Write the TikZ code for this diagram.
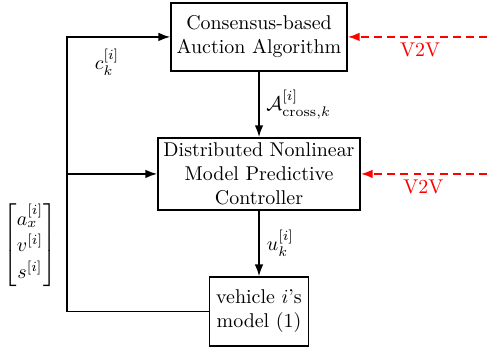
\RequirePackage{fix-cm}
\documentclass[tikz,border=0pt]{standalone}
\usepackage{amsmath, amssymb}
\usetikzlibrary{arrows.meta, positioning}

\begin{document}
\begin{tikzpicture}[node distance=2cm, font=\fontsize{10.6pt}{12.8pt}\selectfont,
    block/.style={draw, thick, align=center, inner sep=2pt},
    sig/.style={-{Latex[length=2.2mm, width=1.6mm]}, thick},
    vtov/.style={-{Latex[length=2.2mm, width=1.6mm]}, thick, red, dash pattern=on 4pt off 3pt}]
    \useasboundingbox (0,0) rectangle (9.1,-6.53);

    \node[block, minimum width=3.29cm, minimum height=1.27cm] (CBAA) at (4.84,-0.69) {Consensus-based\\Auction Algorithm};
    \node[block, minimum width=3.78cm, minimum height=1.35cm] (DNMPC) at (4.84,-3.25) {Distributed Nonlinear\\Model Predictive\\Controller};
    \node[block, minimum width=1.85cm, minimum height=1.29cm] (veh) at (4.84,-5.82) {vehicle $i$'s\\model (1)};

    \draw[sig] (CBAA) -- (DNMPC);
    \draw[sig] (DNMPC) -- (veh);
    \node[inner sep=1pt] (Acr) at (5.58,-1.96) {$\mathcal{A}_{\text{cross},k}^{[i]}$};
    \node[inner sep=1pt] (uk) at (5.24,-4.54) {$u_k^{[i]}$};

    \coordinate (fb) at (1.25,-5.82);
    \coordinate (fbmid) at (fb |- DNMPC.west);
    \draw[sig] (veh.west) -- (fb) |- (CBAA.west);
    \draw[sig] (fbmid) -- (DNMPC.west);
    \node (ck) at (2.0,-1.16) {$c_k^{[i]}$};
    \node[inner sep=1pt] (state) at (0.56,-4.58) {$\begin{bmatrix} a_x^{[i]}\\[1pt] v^{[i]}\\[1pt] s^{[i]} \end{bmatrix}$};

    \coordinate (inA) at (9.1,-0.69);
    \coordinate (inB) at (9.1,-3.25);
    \draw[vtov] (inA) -- (CBAA.east);
    \draw[vtov] (inB) -- (DNMPC.east);
    \node[text=red] (vA) at (7.85,-0.93) {V2V};
    \node[text=red] (vB) at (7.91,-3.50) {V2V};
\end{tikzpicture}
\end{document}
